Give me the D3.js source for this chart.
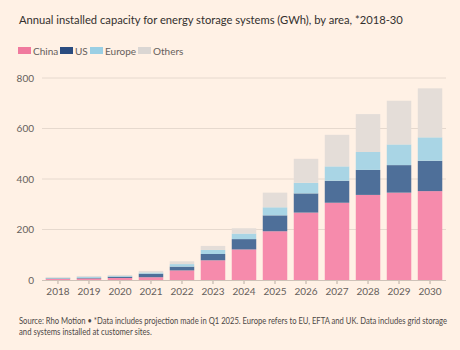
<!DOCTYPE html>
<html><head><meta charset="utf-8">
<script src="https://cdn.jsdelivr.net/npm/d3@7"></script>
<style>
html,body{margin:0;padding:0;background:#FFF1E5;}
svg{display:block;font-family:Lato,"Open Sans",sans-serif;}
</style></head>
<body><svg id="c" width="460" height="350"></svg>
<script>
const years = ["2018","2019","2020","2021","2022","2023","2024","2025","2026","2027","2028","2029","2030"];
const china  = [4, 6, 8, 11, 38, 78, 121, 193, 267, 306, 337, 346, 352];
const us     = [2, 2, 5, 14, 15, 25, 41, 63, 76, 87, 99, 109, 120];
const europe = [3, 4, 3, 5, 10, 16, 22, 32, 42, 57, 71, 82, 93];
const others = [3, 4, 4, 6, 11, 16, 21, 58, 95, 125, 150, 173, 194];
const seriesNames = ["China","US","Europe","Others"];
const barColors = ["#F68BAC","#4E6F99","#A9D5E5","#E4DDD8"];
const legendColors = ["#F07A9E","#2A4C80","#9ACFE4","#DAD6D3"];
const yTicks = [0,200,400,600,800];

const svg = d3.select("#c");

const rows = years.map((y,i)=>({year:y, China:china[i], US:us[i], Europe:europe[i], Others:others[i]}));
const stack = d3.stack().keys(seriesNames)(rows);

const x = d3.scaleBand().domain(years).range([42, 446]).paddingInner(0.21).paddingOuter(0.12);
const y = d3.scaleLinear().domain([0,800]).range([280, 78]);

// title
svg.append("text").attr("x",19).attr("y",24).attr("font-size",11.2).attr("fill","#33302E")
  .text("Annual installed capacity for energy storage systems (GWh), by area, *2018-30");

// legend
const lx = [18, 60, 90, 138];
seriesNames.forEach((n,i)=>{
  svg.append("rect").attr("x",lx[i]).attr("y",47).attr("width",13).attr("height",7).attr("fill",legendColors[i]);
  svg.append("text").attr("x",lx[i]+15).attr("y",54.5).attr("font-size",10).attr("fill","#66605C").text(n);
});

// grid
const gy = svg.append("g");
yTicks.forEach(t=>{
  if(t>0) gy.append("line").attr("x1",42).attr("x2",446).attr("y1",y(t)).attr("y2",y(t)).attr("stroke","#E6D9CE").attr("stroke-width",1);
});
const yAxis = d3.axisLeft(y).tickValues(yTicks).tickSize(0).tickPadding(8);
const ga = svg.append("g").attr("transform","translate(42,0)").call(yAxis);
ga.select(".domain").remove();
ga.selectAll("text").attr("font-size",10).attr("fill","#66605C").attr("font-family","Lato,sans-serif");

// bars
svg.append("g").selectAll("g").data(stack).join("g").attr("fill",(d,i)=>barColors[i])
  .selectAll("rect").data(d=>d).join("rect")
  .attr("x",d=>x(d.data.year)).attr("width",x.bandwidth())
  .attr("y",d=>y(d[1])).attr("height",d=>Math.max(0,y(d[0])-y(d[1])));

// x axis
const xAxis = d3.axisBottom(x).tickSize(4).tickPadding(4);
const gx = svg.append("g").attr("transform","translate(0,280)").call(xAxis);
gx.select(".domain").remove();
gx.append("line").attr("x1",42).attr("x2",446).attr("y1",0.5).attr("y2",0.5).attr("stroke","#CEC2B8").attr("stroke-width",1.2);
gx.selectAll(".tick line").attr("stroke","#B8ACA2");
gx.selectAll("text").attr("font-size",10).attr("fill","#66605C").attr("font-family","Lato,sans-serif");

// footer (horizontally condensed to fit like the reference)
function footLine(txt, yy, targetW){
  const g = svg.append("g");
  const t = g.append("text").attr("x",0).attr("y",0).attr("font-size",8.6).attr("fill","#4D4845").text(txt);
  const w = t.node().getComputedTextLength();
  const s = Math.min(1, targetW / w);
  g.attr("transform", `translate(19,${yy}) scale(${s},1)`);
}
footLine("Source: Rho Motion • *Data includes projection made in Q1 2025. Europe refers to EU, EFTA and UK. Data includes grid storage", 324, 428);
footLine("and systems installed at customer sites.", 335, 133);
</script></body></html>
